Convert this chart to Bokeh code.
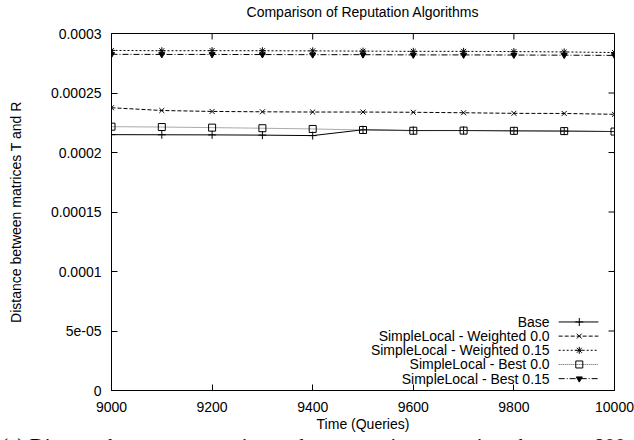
from bokeh.plotting import figure
from bokeh.models import FixedTicker, Range1d, Div
from bokeh.layouts import column
from bokeh.embed import file_html
from bokeh.resources import INLINE
from bokeh.core.properties import value

# ---- data ----
queries = [9000, 9100, 9200, 9300, 9400, 9500, 9600, 9700, 9800, 9900, 10000]
base = [0.0002150, 0.0002149, 0.0002148, 0.0002146, 0.0002142, 0.0002191,
        0.0002185, 0.0002185, 0.0002182, 0.0002180, 0.0002176]
weighted_00 = [0.0002376, 0.0002353, 0.0002345, 0.0002342, 0.0002340, 0.0002340,
               0.0002338, 0.0002334, 0.0002329, 0.0002328, 0.0002321]
weighted_015 = [0.0002858, 0.0002855, 0.0002856, 0.0002855, 0.0002854, 0.0002852,
                0.0002850, 0.0002850, 0.0002848, 0.0002845, 0.0002840]
best_00 = [0.0002217, 0.0002214, 0.0002209, 0.0002204, 0.0002198, 0.0002189,
           0.0002183, 0.0002184, 0.0002182, 0.0002180, 0.0002176]
best_015 = [0.0002825, 0.0002824, 0.0002824, 0.0002823, 0.0002822, 0.0002822,
            0.0002820, 0.0002820, 0.0002819, 0.0002818, 0.0002816]

series_names = ["Base", "SimpleLocal - Weighted 0.0", "SimpleLocal - Weighted 0.15",
                "SimpleLocal - Best 0.0", "SimpleLocal - Best 0.15"]

x_ticks = [9000, 9200, 9400, 9600, 9800, 10000]
y_ticks = [0, 0.00005, 0.0001, 0.00015, 0.0002, 0.00025, 0.0003]
y_tick_labels = ["0", "5e-05", "0.0001", "0.00015", "0.0002", "0.00025", "0.0003"]

title_text = "Comparison of Reputation Algorithms"
x_label = "Time (Queries)"
y_label = "Distance between matrices T and R"
caption_text = "(a) Distance between reputation and trust matrices over time, between 800"

# ---- styles ----
FONT = "Liberation Sans"
series_data = [base, weighted_00, weighted_015, best_00, best_015]
dashes = ["solid", "4 2", "2 2", "1 1", "6 2 1 2"]
line_colors = ["black", "black", "black", "#555555", "black"]
markers = ["cross", "x", "asterisk", "square", "inverted_triangle"]
msizes = [8, 7, 7, 7, 6]
mfill = [None, None, None, None, "black"]

x0, x1 = 9000, 10000
y0, y1 = 0, 0.0003
W = 634
TITLE_H, FIG_H, CAP_H = 24, 410, 6
BL, BR, BT, BB = 111, 20, 9, 42
FW, FH = W - BL - BR, FIG_H - BT - BB  # frame size in px

p = figure(width=W, height=FIG_H, output_backend="svg", toolbar_location=None,
           x_range=Range1d(x0, x1), y_range=Range1d(y0, y1),
           min_border_left=BL, min_border_right=BR, min_border_top=BT,
           min_border_bottom=BB, margin=0)
p.background_fill_color = "white"
p.border_fill_color = "white"
p.outline_line_color = "black"
p.outline_line_width = 1
p.grid.visible = False

xax = p.xaxis[0]
yax = p.yaxis[0]
xax.ticker = FixedTicker(ticks=x_ticks)
yax.ticker = FixedTicker(ticks=y_ticks)
yax.major_label_overrides = {t: l for t, l in zip(y_ticks, y_tick_labels)}
for ax in (xax, yax):
    ax.major_tick_in = 6
    ax.major_tick_out = 0
    ax.minor_tick_line_color = None
    ax.axis_line_color = "black"
    ax.major_tick_line_color = "black"
    ax.major_label_text_font = FONT
    ax.major_label_text_font_size = "14px"
    ax.major_label_text_color = "black"
    ax.axis_label_text_font = FONT
    ax.axis_label_text_font_size = "14px"
    ax.axis_label_text_font_style = "normal"
    ax.axis_label_text_color = "black"
xax.axis_label = x_label
yax.axis_label = y_label
xax.major_label_standoff = 11
xax.axis_label_standoff = 1
yax.major_label_standoff = 10
yax.axis_label_standoff = 24

def fx(f):
    return x0 + (x1 - x0) * f

def fy(f):
    return y0 + (y1 - y0) * f

# mirrored inward ticks on top and right edges (gnuplot style), 6 px long
tx = 6 / FW * (x1 - x0)
ty = 6 / FH * (y1 - y0)
p.segment(x0=x_ticks, y0=[y1] * len(x_ticks), x1=x_ticks, y1=[y1 - ty] * len(x_ticks),
          line_color="black", line_width=1)
p.segment(x0=[x1] * len(y_ticks), y0=y_ticks, x1=[x1 - tx] * len(y_ticks), y1=y_ticks,
          line_color="black", line_width=1)

# ---- series ----
for data, dash, col, mk, ms, mf in zip(series_data, dashes, line_colors, markers, msizes, mfill):
    p.line(queries, data, line_color=col, line_width=1, line_dash=dash)
    p.scatter(queries, data, marker=mk, size=ms, line_color="black", line_width=1,
              fill_color=mf)

# ---- legend (gnuplot-like key: text right-aligned, sample on the right) ----
key_top = 0.192
key_step = 0.0397
for i, (name, dash, col, mk, ms, mf) in enumerate(zip(series_names, dashes, line_colors, markers, msizes, mfill)):
    yy = fy(key_top - i * key_step)
    p.text(x=[fx(0.871)], y=[yy], text=[name], text_align="right", text_baseline="middle",
           text_font=value(FONT), text_font_size="14px", text_color="black")
    p.line([fx(0.889), fx(0.968)], [yy, yy], line_color=col, line_width=1, line_dash=dash)
    p.scatter([fx(0.930)], [yy], marker=mk, size=ms, line_color="black", line_width=1,
              fill_color=mf)

# ---- title strip, centred over the plot frame ----
title = Div(text=(f'<div style="box-sizing:border-box;width:{W}px;padding-left:{BL}px;'
                  f'padding-right:{BR}px;text-align:center;font-family:{FONT};font-size:14px;'
                  f'line-height:{TITLE_H}px;color:black;white-space:nowrap">{title_text}</div>'),
            width=W, height=TITLE_H, margin=0,
            styles={"overflow": "hidden", "background": "white"})

# ---- caption strip below (cut off by the page edge, as in the reference) ----
caption = Div(text=('<div style="font-family:Liberation Serif;font-size:21px;line-height:21px;'
                    'margin-top:2px;padding-left:1px;white-space:nowrap;color:black">'
                    f'{caption_text}</div>'),
              width=W, height=CAP_H, margin=0,
              styles={"overflow": "hidden", "background": "white"})

layout = column(title, p, caption, spacing=0, margin=0)
open("out.html", "w").write(file_html(layout, INLINE))
